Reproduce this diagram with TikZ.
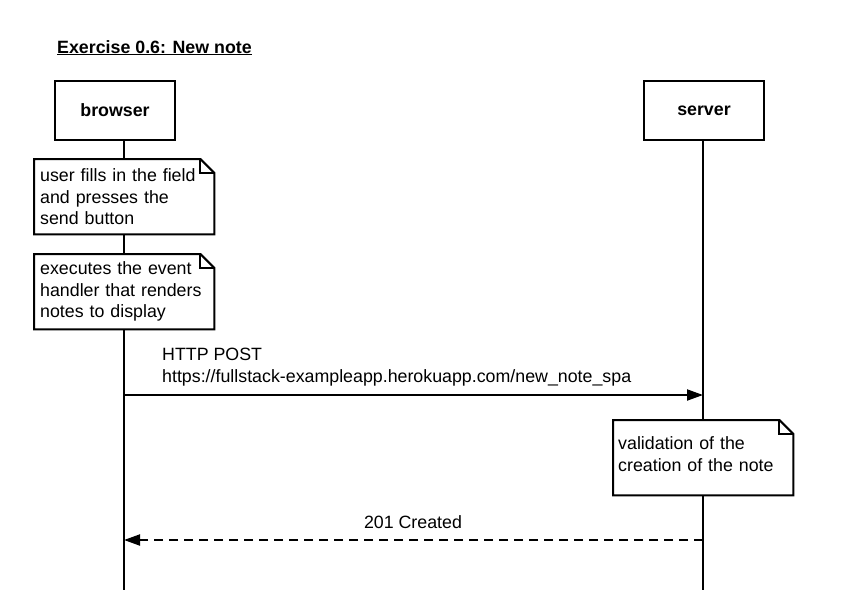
\documentclass[tikz,border=0pt]{standalone}
\usepackage{fontspec}
\setmainfont{Liberation Sans}
\usetikzlibrary{arrows.meta}
\tikzset{
  txt/.style={font=\fontsize{17.8}{21.5}\selectfont},
  actor/.style={draw, line width=2pt, fill=white, minimum width=120pt, minimum height=59pt,
    anchor=north west, inner sep=0pt, font=\fontsize{17.8}{21.5}\selectfont\bfseries},
  notetext/.style={txt, anchor=north west, text width=168pt, inner xsep=6pt, inner ysep=0pt,
    minimum height=75pt, align=left},
  outline/.style={line width=2pt, fill=white, line join=miter},
  life/.style={line width=2pt},
  msg/.style={line width=2pt, -{Triangle[length=16pt,width=11pt]}},
  reply/.style={line width=2pt, dash pattern=on 9pt off 6pt, -{Triangle[length=16pt,width=11pt]}},
  lbl/.style={txt, inner sep=0pt, align=left}
}
\newcommand{\notefold}[1]{%
  \draw[outline] (#1.north west) -- ([xshift=-14pt]#1.north east) -- ([yshift=-14pt]#1.north east)
    -- (#1.south east) -- (#1.south west) -- cycle;
  \draw[line width=2pt] ([xshift=-14pt]#1.north east) |- ([yshift=-14pt]#1.north east);
}
\begin{document}
\begin{tikzpicture}[x=1pt,y=-1pt]
\useasboundingbox[fill=white] (0,0) rectangle (846,590);

% title
\node[txt, font=\fontsize{17.8}{21.5}\selectfont\bfseries, anchor=base west, inner sep=0pt] (title) at (57,53) {\underline{Exercise 0.6: New note}};

% actors
\node[actor] (browser) at (54,80) {browser};
\node[actor] (server) at (643,80) {server};

% lifelines
\coordinate (btop) at (124,139);
\coordinate (bbot) at (124,590);
\coordinate (stop) at (703,139);
\coordinate (sbot) at (703,590);
\draw[life] (btop) -- (bbot);
\draw[life] (stop) -- (sbot);

% notes on browser
\node[notetext] (n1) at (34,159) {};
\notefold{n1}
\node[notetext] (n1t) at (34,159) {user fills in the field\\and presses the\\send button};

\node[notetext] (n2) at (34,254) {};
\notefold{n2}
\node[notetext] (n2t) at (34,254) {executes the event\\handler that renders\\notes to display};

% POST message
\coordinate (m1s) at (124,395);
\coordinate (m1e) at (703,395);
\draw[msg] (m1s) -- (m1e);
\node[lbl, anchor=west] (m1l) at (162,367) {HTTP POST\\https://fullstack-exampleapp.herokuapp.com/new\_note\_spa};

% server note
\node[notetext, inner xsep=5pt, text width=170pt] (n3) at (613,420) {};
\notefold{n3}
\node[notetext, inner xsep=5pt, text width=170pt, minimum height=68pt] (n3t) at (613,420) {validation of the\\creation of the note};

% reply
\coordinate (m2s) at (703,540);
\coordinate (m2e) at (124,540);
\draw[reply] (m2s) -- (m2e);
\node[lbl, anchor=base] (m2l) at (413,528) {201 Created};
\end{tikzpicture}
\end{document}
